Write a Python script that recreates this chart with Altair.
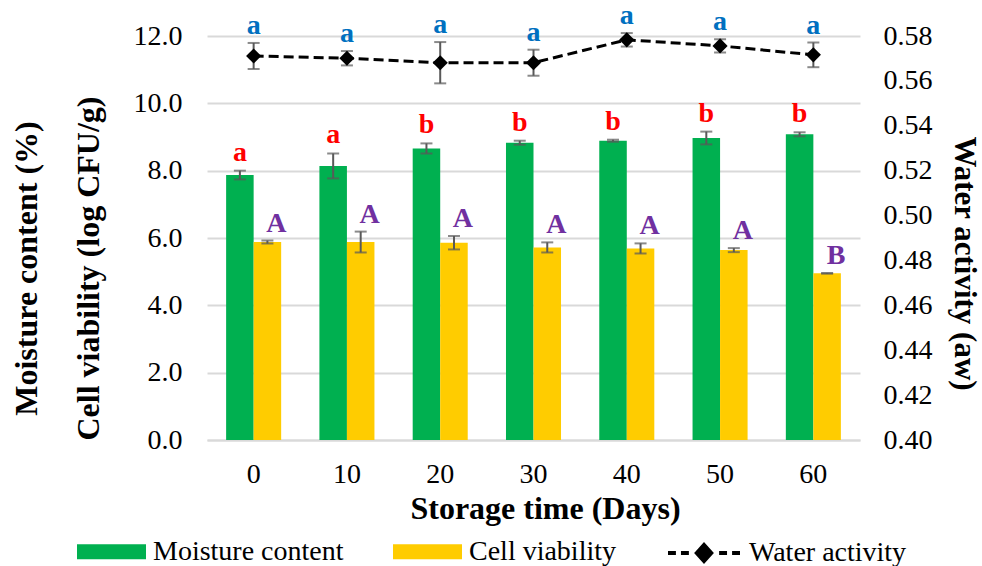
import altair as alt
import pandas as pd

days = [0, 10, 20, 30, 40, 50, 60]
series_names = ["Moisture content", "Cell viability"]

moisture = [7.87, 8.14, 8.66, 8.83, 8.89, 8.97, 9.08]
moisture_err = [0.13, 0.37, 0.15, 0.06, 0.03, 0.19, 0.06]
moisture_letters = ["a", "a", "b", "b", "b", "b", "b"]

viability = [5.88, 5.88, 5.86, 5.72, 5.69, 5.64, 4.95]
viability_err = [0.045, 0.31, 0.20, 0.15, 0.15, 0.06, 0.01]
viability_letters = ["A", "A", "A", "A", "A", "A", "B"]

water = [0.5711, 0.5701, 0.5681, 0.5681, 0.5783, 0.5756, 0.5716]
water_err = [0.0058, 0.0032, 0.0092, 0.0058, 0.0030, 0.0030, 0.0055]
water_letters = ["a", "a", "a", "a", "a", "a", "a"]

left_ticks = [0, 2, 4, 6, 8, 10, 12]
right_ticks = [0.40, 0.42, 0.44, 0.46, 0.48, 0.50, 0.52, 0.54, 0.56, 0.58]

bars_df = pd.DataFrame({
    "day": days * 2,
    "series": [series_names[0]] * len(days) + [series_names[1]] * len(days),
    "value": moisture + viability,
    "err": moisture_err + viability_err,
    "letter": moisture_letters + viability_letters,
})
bars_df["lo"] = bars_df["value"] - bars_df["err"]
bars_df["hi"] = bars_df["value"] + bars_df["err"]

wa_df = pd.DataFrame({
    "day": days,
    "wa": water,
    "err": water_err,
    "letter": water_letters,
    "series": ["Water activity"] * len(days),
})
wa_df["lo"] = wa_df["wa"] - wa_df["err"]
wa_df["hi"] = wa_df["wa"] + wa_df["err"]

FONT = "Liberation Serif"
ERR_COLOR = "#595959"

x_enc = alt.X(
    "day:O", sort=days,
    scale=alt.Scale(paddingInner=0.41, paddingOuter=0.205),
    axis=alt.Axis(
        title="Storage time (Days)", labelAngle=0, labelFontSize=28, labelFont=FONT,
        labelColor="black", labelPadding=20, ticks=False, tickSize=0,
        domainColor="#D9D9D9", domainWidth=2,
        titleFontSize=32, titleFont=FONT, titleFontWeight="bold", titleColor="black",
        titleX=338, titleY=68, titleBaseline="middle", titleAlign="center",
    ),
)
xo_enc = alt.XOffset("series:N", sort=series_names,
                     scale=alt.Scale(domain=series_names, paddingInner=0, paddingOuter=0))

left_scale = alt.Scale(domain=[0, 12], nice=False, zero=True)
left_axis = alt.Axis(
    values=left_ticks, format=".1f", labelFontSize=28, labelFont=FONT, labelColor="black",
    labelPadding=25, ticks=False, tickSize=0, domain=False,
    grid=True, gridColor="#D9D9D9", gridWidth=2,
    titleFontSize=32, titleFont=FONT, titleFontWeight="bold", titleColor="black",
    titleAngle=270, titleLineHeight=62, titleBaseline="middle", titleAlign="center",
    titleX=-181, titleY=232,
)
left_title = ["Moisture content (%)", "Cell viability (log CFU/g)"]


def ly(field):
    return alt.Y(field, scale=left_scale, axis=left_axis, title=left_title)


right_scale = alt.Scale(domain=[0.40, 0.58], nice=False, zero=False)
right_axis = alt.Axis(
    orient="right", values=right_ticks, format=".2f", labelFontSize=28, labelFont=FONT,
    labelColor="black", labelPadding=23, ticks=False, tickSize=0, domain=False, grid=False,
    titleFontSize=31, titleFont=FONT, titleFontWeight="bold", titleColor="black",
    titleAngle=90, titleBaseline="middle", titleAlign="center", titleX=103, titleY=227,
)
right_title = "Water activity (aw)"


def ry(field):
    return alt.Y(field, scale=right_scale, axis=right_axis, title=right_title)


bars = alt.Chart(bars_df).mark_bar().encode(
    x=x_enc, xOffset=xo_enc, y=ly("value:Q"),
    color=alt.Color(
        "series:N", sort=series_names,
        scale=alt.Scale(domain=series_names, range=["#00B050", "#FFCC00"]),
        legend=alt.Legend(
            title=None, orient="none", direction="horizontal", legendX=-130, legendY=481,
            symbolType="M-1,-0.22H1V0.22H-1Z", symbolSize=4761, symbolStrokeWidth=0,
            symbolOpacity=1, labelFontSize=28, labelFont=FONT, labelColor="black",
            labelOffset=7, columnPadding=49, padding=0, labelLimit=400,
        ),
    ),
)
bar_rules = alt.Chart(bars_df).mark_rule(color=ERR_COLOR, strokeWidth=2).encode(
    x=x_enc, xOffset=xo_enc, y=ly("lo:Q"), y2="hi:Q"
)
bar_caps_hi = alt.Chart(bars_df).mark_tick(color=ERR_COLOR, size=12, thickness=2).encode(
    x=x_enc, xOffset=xo_enc, y=ly("hi:Q")
)
bar_caps_lo = alt.Chart(bars_df).mark_tick(color=ERR_COLOR, size=12, thickness=2).encode(
    x=x_enc, xOffset=xo_enc, y=ly("lo:Q")
)
red_text = alt.Chart(bars_df).transform_filter(
    alt.datum.series == series_names[0]
).mark_text(color="#FF0000", fontSize=28, font=FONT, fontWeight="bold",
            baseline="alphabetic", dy=-10).encode(
    x=x_enc, xOffset=xo_enc, y=ly("hi:Q"), text="letter:N"
)
purple_text = alt.Chart(bars_df).transform_filter(
    alt.datum.series == series_names[1]
).mark_text(color="#7030A0", fontSize=28, font=FONT, fontWeight="bold",
            baseline="alphabetic", dy=-9, dx=9).encode(
    x=x_enc, xOffset=xo_enc, y=ly("hi:Q"), text="letter:N"
)

left = alt.layer(bars, bar_rules, bar_caps_hi, bar_caps_lo, red_text, purple_text)

line = alt.Chart(wa_df).mark_line(strokeDash=[10, 5], strokeWidth=3).encode(
    x=x_enc, y=ry("wa:Q"),
    stroke=alt.Stroke(
        "series:N",
        scale=alt.Scale(domain=["Water activity"], range=["black"]),
        legend=alt.Legend(
            title=None, orient="none", direction="horizontal", legendX=459, legendY=479,
            symbolType=("M-1,0H-0.78M-0.64,0H-0.42M0.42,0H0.64M0.78,0H1"
                        "M-0.2,0L0,-0.22L0.2,0L0,0.22Z"),
            symbolSize=5184, symbolStrokeWidth=4, symbolStrokeColor="black",
            symbolFillColor="black", symbolOpacity=1,
            labelFontSize=28, labelFont=FONT, labelColor="black", labelOffset=7, padding=0,
            labelLimit=400,
        ),
    ),
)
wa_rules = alt.Chart(wa_df).mark_rule(color=ERR_COLOR, strokeWidth=2).encode(
    x=x_enc, y=ry("lo:Q"), y2="hi:Q"
)
wa_caps_hi = alt.Chart(wa_df).mark_tick(color=ERR_COLOR, size=12, thickness=2).encode(
    x=x_enc, y=ry("hi:Q")
)
wa_caps_lo = alt.Chart(wa_df).mark_tick(color=ERR_COLOR, size=12, thickness=2).encode(
    x=x_enc, y=ry("lo:Q")
)
points = alt.Chart(wa_df).mark_point(shape="diamond", filled=True, size=230,
                                      color="black", opacity=1).encode(
    x=x_enc, y=ry("wa:Q")
)
blue_text = alt.Chart(wa_df).mark_text(color="#0070C0", fontSize=28, font=FONT,
                                       fontWeight="bold", baseline="alphabetic",
                                       dy=-9).encode(
    x=x_enc, y=ry("hi:Q"), text="letter:N"
)

right = alt.layer(line, wa_rules, wa_caps_hi, wa_caps_lo, points, blue_text)

chart = alt.layer(left, right).resolve_scale(y="independent").properties(
    width=653, height=404,
    padding={"left": 207, "top": 36, "right": 122, "bottom": 126},
    autosize=alt.AutoSizeParams(type="none"),
    background="white",
).configure(font=FONT).configure_view(stroke=None)

chart.save("out.html", embed_options={"renderer": "svg", "actions": False})
